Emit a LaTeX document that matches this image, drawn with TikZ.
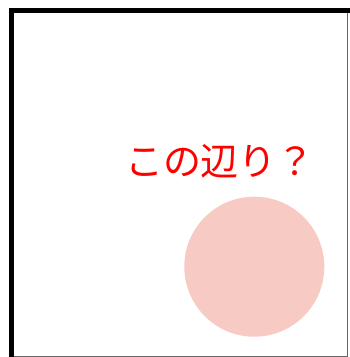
\documentclass[tikz,border=0pt]{standalone}
\usepackage{fontspec}
\newfontfamily\cjk{Noto Sans CJK JP}
\definecolor{blob}{HTML}{F7CBC3}
\definecolor{txtred}{HTML}{FF0000}
\begin{document}
\begin{tikzpicture}[x=1pt,y=-1pt,
  frameline/.style={line width=4.5pt,black},
  edgeline/.style={line width=0.8pt,black!60},
  label/.style={text=txtred,font=\cjk\fontsize{38}{42}\selectfont,inner sep=0pt}]
\useasboundingbox (0,0) rectangle (349,357);
\fill[white] (0,0) rectangle (349,357);
\draw[edgeline] (9,356) -- (347.8,356) -- (347.8,8);
\draw[frameline,line cap=rect] (11.5,357) -- (11.5,10.5) -- (347.8,10.5);
\node[circle,fill=blob,minimum size=140pt,inner sep=0pt] (spot) at (254.3,266.7) {};
\node[label] (q) at (220,161) {この辺り？};
\end{tikzpicture}
\end{document}
